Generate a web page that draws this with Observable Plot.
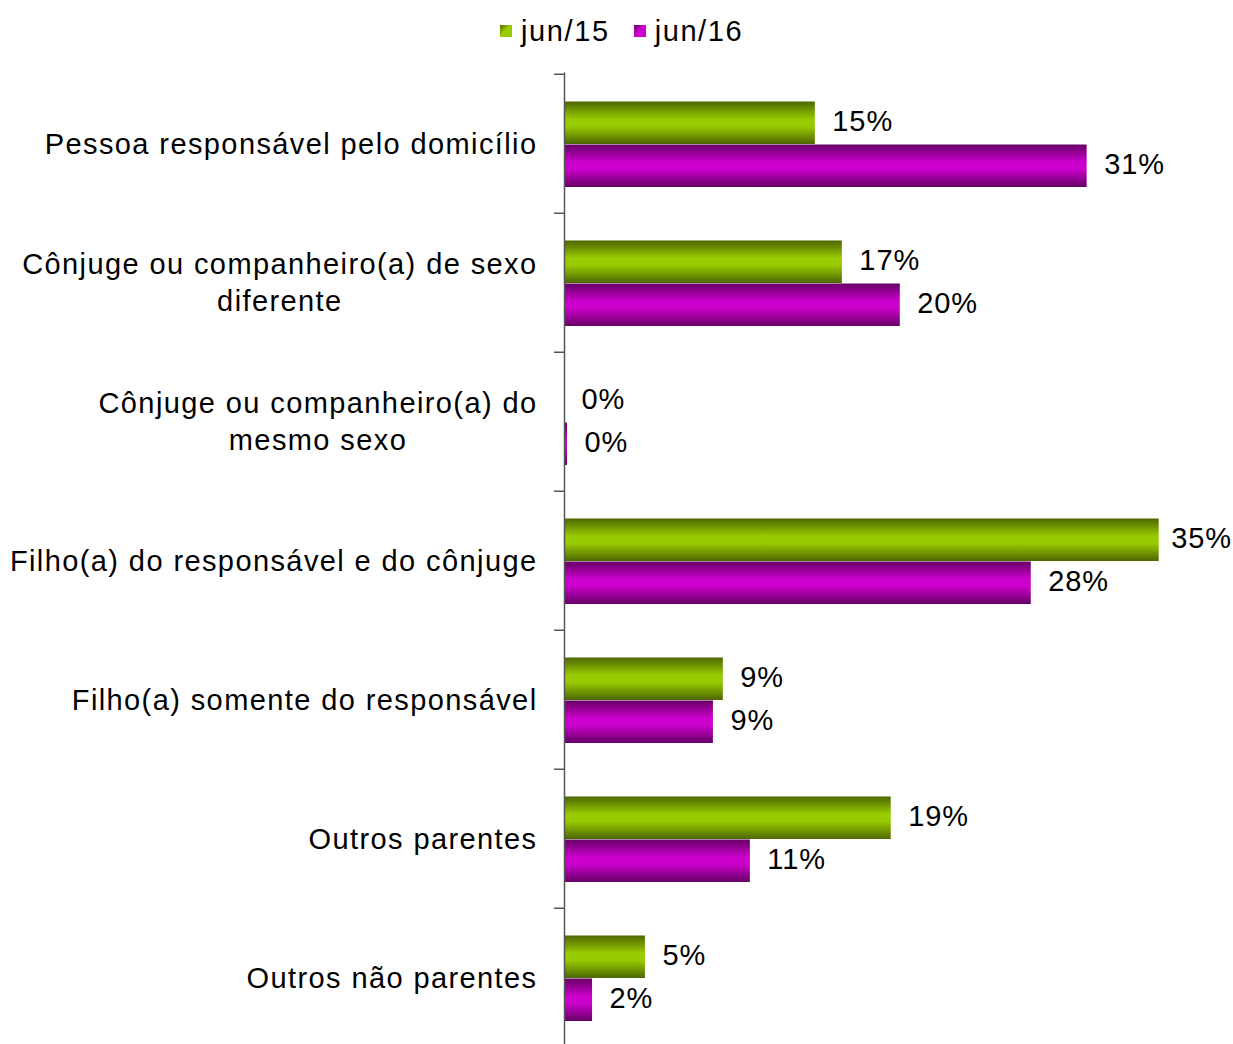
<!DOCTYPE html>
<html>
<head>
<meta charset="utf-8">
<script src="https://cdn.jsdelivr.net/npm/d3@7"></script>
<script src="https://cdn.jsdelivr.net/npm/@observablehq/plot@0.6"></script>
<style>
  html, body { margin: 0; padding: 0; background: #fff; overflow: hidden; }
  body { width: 1233px; height: 1044px; position: relative; font-family: Arial, "Liberation Sans", sans-serif; }
  #legend { position: absolute; left: 500px; top: 11px; height: 40px; display: flex; align-items: center; font-size: 29px; color: #000; letter-spacing: 1.6px; }
  #legend .item { display: flex; align-items: center; margin-right: 24px; }
  #legend .sw { width: 12px; height: 12px; margin-right: 9px; }
  #chart { position: absolute; left: 0; top: 60px; }
  .catlab text { letter-spacing: 1.4px; }
  .vallab text { letter-spacing: 0.9px; }
</style>
</head>
<body>
<div id="legend"></div>
<div id="chart"></div>
<script>
const categories = [
  "Pessoa responsável pelo domicílio",
  "Cônjuge ou companheiro(a) de sexo\ndiferente",
  "Cônjuge ou companheiro(a) do\nmesmo sexo",
  "Filho(a) do responsável e do cônjuge",
  "Filho(a) somente do responsável",
  "Outros parentes",
  "Outros não parentes"
];
const seriesNames = ["jun/15", "jun/16"];
const jun15 = [14.94, 16.55, 0, 35.42, 9.46, 19.46, 4.82];
const jun16 = [31.13, 20.0, 0.18, 27.8, 8.87, 11.07, 1.67];
const seriesColors = { "jun/15": ["#4d6600", "#99cc00"], "jun/16": ["#660066", "#cc00cc"] };
const gradIds = { "jun/15": "gGreen", "jun/16": "gPurple" };

const d15 = categories.map((c, i) => ({ category: c, value: jun15[i], series: "jun/15" }));
const d16 = categories.map((c, i) => ({ category: c, value: jun16[i], series: "jun/16" }));

const band = (1049 - 72.5) / categories.length; // px per category
const fmt = v => Math.round(v) + "%";

const svgHeight = 989;
const plot = Plot.plot({
  width: 1233,
  height: svgHeight,
  marginLeft: 564,
  marginRight: 31,
  marginTop: 12.5,
  marginBottom: 0,
  style: { fontFamily: "Arial, 'Liberation Sans', sans-serif", fontSize: "29px", color: "#000", background: "#fff" },
  x: { domain: [0, 38], axis: null },
  y: { domain: categories, range: [12.5, svgHeight], padding: 0, axis: null },
  marks: [
    Plot.barX(d15, { y: "category", x: "value", fill: "url(#gGreen)", insetTop: 27.5, insetBottom: band - 27.5 - 43 }),
    Plot.barX(d16, { y: "category", x: "value", fill: "url(#gPurple)", insetTop: 70.5, insetBottom: band - 70.5 - 43 }),
    Plot.text(d15, { y: "category", x: "value", text: d => fmt(d.value), dx: 17, dy: -22, textAnchor: "start", fontSize: 29, fill: "#000", className: "vallab" }),
    Plot.text(d16, { y: "category", x: "value", text: d => fmt(d.value), dx: 17, dy: 21, textAnchor: "start", fontSize: 29, fill: "#000", className: "vallab" }),
    Plot.ruleX([0], { stroke: "#555", strokeWidth: 1.5 }),
    Plot.axisY({ tickSize: 10, tickFormat: () => "", label: null, dy: -band / 2, stroke: "#555", strokeWidth: 1.5, strokeOpacity: 1 }),
    Plot.text(categories, { y: d => d, frameAnchor: "left", dx: -27, dy: -2, textAnchor: "end", fontSize: 29, lineHeight: 37 / 29, fill: "#000", className: "catlab" })
  ]
});

// gradients
const ns = "http://www.w3.org/2000/svg";
const defs = document.createElementNS(ns, "defs");
for (const s of seriesNames) {
  const [dark, light] = seriesColors[s];
  const g = document.createElementNS(ns, "linearGradient");
  g.setAttribute("id", gradIds[s]);
  g.setAttribute("x1", "0"); g.setAttribute("y1", "0");
  g.setAttribute("x2", "0"); g.setAttribute("y2", "1");
  [[0, dark], [0.42, light], [0.58, light], [1, dark]].forEach(([o, c]) => {
    const st = document.createElementNS(ns, "stop");
    st.setAttribute("offset", o);
    st.setAttribute("stop-color", c);
    g.appendChild(st);
  });
  defs.appendChild(g);
}
plot.insertBefore(defs, plot.firstChild);
document.getElementById("chart").appendChild(plot);

// center multi-line category labels within their block (block right-aligned)
plot.querySelectorAll(".catlab text").forEach(t => {
  const spans = t.querySelectorAll("tspan");
  if (spans.length > 1) {
    let w = 0;
    spans.forEach(s => { w = Math.max(w, s.getComputedTextLength()); });
    t.setAttribute("text-anchor", "middle");
    spans.forEach(s => s.setAttribute("x", -w / 2));
  }
});

// keep value labels inside the picture (as the original moves the widest one in)
plot.querySelectorAll(".vallab text").forEach(t => {
  const bb = t.getBBox();
  const ctm = t.getCTM();
  const right = bb.x + bb.width + (ctm ? ctm.e : 0);
  const limit = 1232;
  if (right > limit) {
    const shift = right - limit;
    const cur = t.getAttribute("transform") || "";
    t.setAttribute("transform", `translate(${-shift},0) ` + cur);
  }
});

// legend
const legend = document.getElementById("legend");
for (const s of seriesNames) {
  const item = document.createElement("div");
  item.className = "item";
  const sw = document.createElement("div");
  sw.className = "sw";
  const [dark, light] = seriesColors[s];
  sw.style.background = `linear-gradient(135deg, ${dark}, ${light} 45%, ${light})`;
  const lab = document.createElement("span");
  lab.textContent = s;
  item.appendChild(sw); item.appendChild(lab);
  legend.appendChild(item);
}
</script>
</body>
</html>
